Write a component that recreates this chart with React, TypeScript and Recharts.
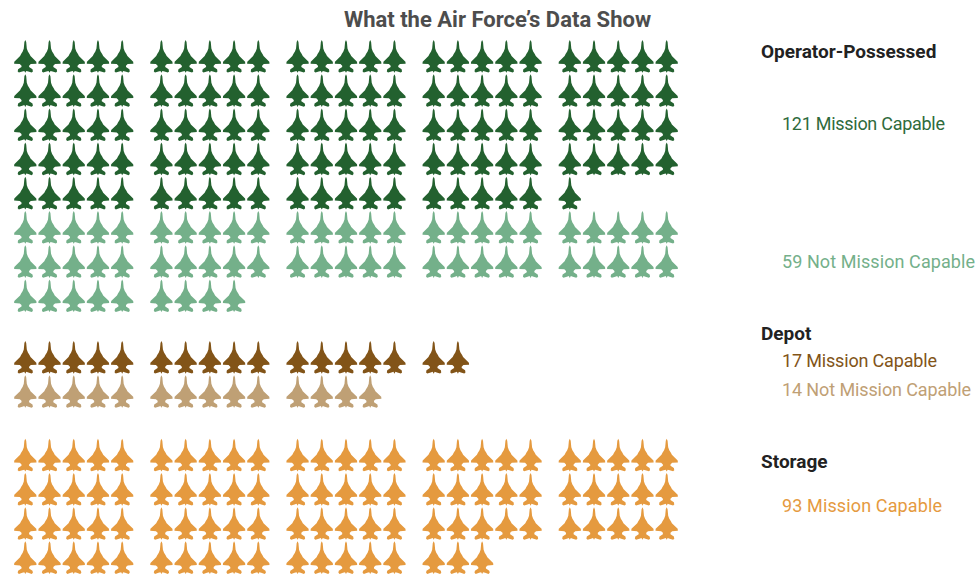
import React from 'react'
import { ScatterChart, Scatter, XAxis, YAxis } from 'recharts'

// one plane per aircraft, 25 slots to a row, split into blocks of 5
const categories = ['Operator MC', 'Operator NMC', 'Depot MC', 'Depot NMC', 'Storage MC']
const counts = [121, 59, 17, 14, 93]
const colors = ['#23612f', '#74b08a', '#825418', '#bfa075', '#e59a3f']
const startRows = [0, 5, 8.8, 9.8, 11.66]

const SLOTS_PER_ROW = 25
const SLOTS_PER_BLOCK = 5
const BLOCK_GAP = 0.62

function buildPoints(count: number, startRow: number) {
    const points = []
    for (let i = 0; i < count; i++) {
        const slot = i % SLOTS_PER_ROW
        points.push({
            x: slot + Math.floor(slot / SLOTS_PER_BLOCK) * BLOCK_GAP,
            y: startRow + Math.floor(i / SLOTS_PER_ROW),
        })
    }
    return points
}

const PLANE_PATH =
    'M0,-16.5 L0.9,-14.5 L1.5,-8 L2.6,-5 L4.2,-2.5 L5.2,-0.5 L11,5.2 L11.2,7.2 L5.5,7.6 L3.8,9.2 L3.8,10.6 ' +
    'L7.2,12.8 L7.6,15 L6.4,16.1 L3,15 L1,14.4 L0,16.2 L-1,14.4 L-3,15 L-6.4,16.1 L-7.6,15 L-7.2,12.8 ' +
    'L-3.8,10.6 L-3.8,9.2 L-5.5,7.6 L-11.2,7.2 L-11,5.2 L-5.2,-0.5 L-4.2,-2.5 L-2.6,-5 L-1.5,-8 L-0.9,-14.5 Z'

function Plane({ cx, cy, fill }: any) {
    return <path d={PLANE_PATH} transform={`translate(${cx},${cy})`} fill={fill} />
}

const FONT = 'Roboto, sans-serif'
const ROW_TEXT = { fontFamily: FONT, fontSize: 18, lengthAdjust: 'spacing' }
const HEAD_TEXT = { fontFamily: FONT, fontSize: 19, fontWeight: 700, fill: '#222' }

export default function App() {
    return (
        <div style={{ position: 'absolute', left: 0, top: 0, width: 977, height: 576, background: '#fff' }}>
            <ScatterChart width={977} height={576} margin={{ top: 56.5, left: 25.3, right: 273.5, bottom: 6.5 }}>
                <XAxis type="number" dataKey="x" domain={[0, 28]} hide />
                <YAxis type="number" dataKey="y" domain={[0, 15]} reversed hide />
                {categories.map((name, i) => (
                    <Scatter
                        key={name}
                        name={name}
                        data={buildPoints(counts[i], startRows[i])}
                        fill={colors[i]}
                        shape={<Plane fill={colors[i]} />}
                        isAnimationActive={false}
                    />
                ))}
                <text x={497.5} y={27} textAnchor="middle" fontFamily={FONT} fontWeight={700} fontSize={22} fill="#4d4d4d">What the Air Force’s Data Show</text>
                <text x={761} y={57.5} {...HEAD_TEXT}>Operator-Possessed</text>
                <text x={782} y={130} textLength={163} {...ROW_TEXT} fill="#2f6b3c">121 Mission Capable</text>
                <text x={782} y={268} textLength={193} {...ROW_TEXT} fill="#74b08a">59 Not Mission Capable</text>
                <text x={761} y={339.5} {...HEAD_TEXT}>Depot</text>
                <text x={782} y={367} textLength={155} {...ROW_TEXT} fill="#825418">17 Mission Capable</text>
                <text x={782} y={396} textLength={189} {...ROW_TEXT} fill="#bfa075">14 Not Mission Capable</text>
                <text x={761} y={467.5} {...HEAD_TEXT}>Storage</text>
                <text x={782} y={512} textLength={160} {...ROW_TEXT} fill="#e59a3f">93 Mission Capable</text>
            </ScatterChart>
        </div>
    )
}
